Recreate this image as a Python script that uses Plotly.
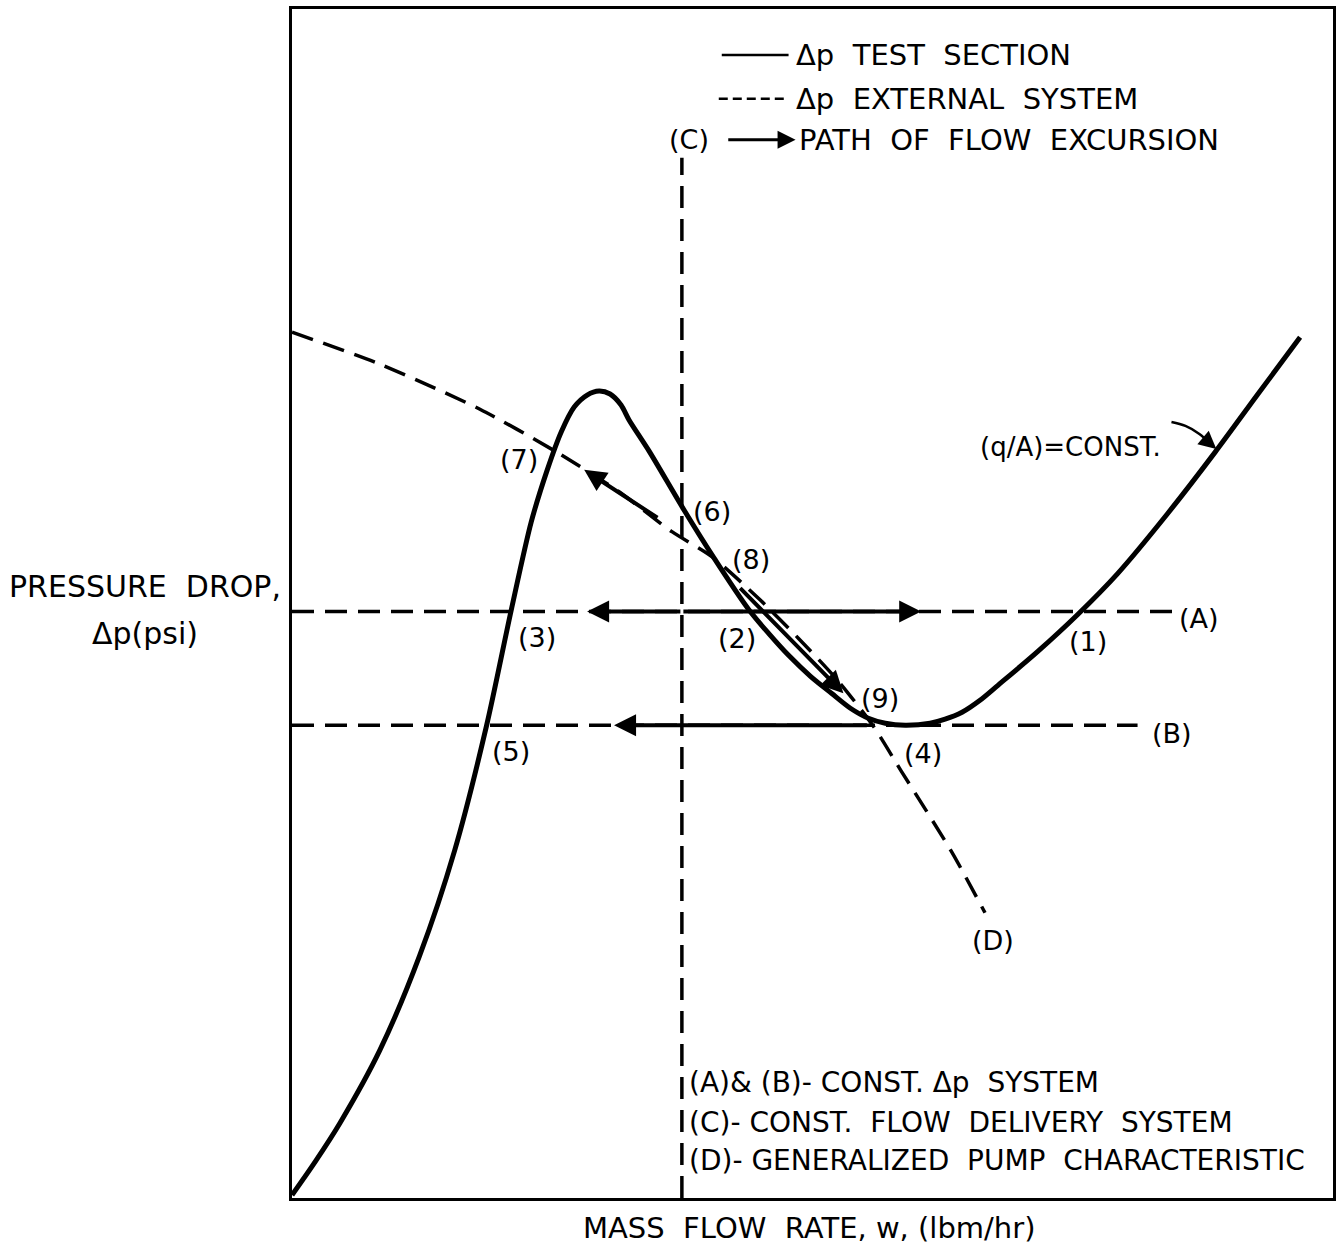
import plotly.graph_objects as go

# Test-section pressure drop vs. mass flow rate (q/A = const.), schematic units
test_w = [0, 23, 48, 88, 128, 163, 195, 220, 240, 256, 270, 283, 296, 308, 319,
          330, 338, 358, 393, 423, 458, 478, 498, 520, 541, 560, 578, 595, 615,
          640, 655, 672, 690, 708, 748, 788, 828, 878, 926, 968, 1011]
test_dp = [3, 36, 75, 148, 243, 348, 473, 590, 678, 730, 768, 793, 805, 809, 806,
           795, 780, 749, 690, 642, 590, 566, 544, 523, 506, 491, 481, 476, 474,
           476, 480, 487, 499, 514, 548, 585, 626, 686, 748, 805, 863]

# External system: generalized pump characteristic (D)
pump_w = [0, 88, 188, 265, 328, 381, 421, 468, 508, 548, 583, 611, 661, 695]
pump_dp = [868, 836, 791, 748, 708, 668, 643, 601, 561, 518, 473, 428, 348, 286]

# Constant-dp systems (A), (B) and constant-flow system (C)
dp_A = 588
dp_B = 474
w_C = 391
A_span = [0, 888]
B_span = [0, 848]
C_span = [0, 1043]

# Operating-point labels
point_labels = ["(1)", "(2)", "(3)", "(4)", "(5)", "(6)", "(7)", "(8)", "(9)"]
point_w = [798, 446, 246, 633, 220, 421, 228, 460, 590]
point_dp = [558, 561, 562, 446, 448, 688, 740, 640, 501]

# Flow-excursion paths: (tail w, tail dp, head w, head dp)
excursions = [
    (368, 681, 293, 730),   # (6)/(8) -> (7)
    (448, 613, 553, 506),   # (8) -> (9)
    (391, dp_A, 296, dp_A),  # (2) -> (3)
    (391, dp_A, 631, dp_A),  # (2) -> (1)
    (578, dp_B, 323, dp_B),  # (4) -> (5)
]

# (q/A) pointer: curved leader from the label to the test-section curve
lead_w = [882, 896, 910, 920]
lead_dp = [778, 774, 766, 757]

FONT = "DejaVu Sans"
DASH = "22px,11px"

fig = go.Figure()

fig.add_trace(go.Scatter(x=test_w, y=test_dp, mode="lines",
                         line=dict(color="black", width=5, shape="spline", smoothing=0.8),
                         hoverinfo="skip"))
fig.add_trace(go.Scatter(x=pump_w, y=pump_dp, mode="lines",
                         line=dict(color="black", width=3.5, dash=DASH, shape="spline", smoothing=0.7),
                         hoverinfo="skip"))
fig.add_trace(go.Scatter(x=A_span, y=[dp_A, dp_A], mode="lines",
                         line=dict(color="black", width=3.5, dash=DASH), hoverinfo="skip"))
fig.add_trace(go.Scatter(x=B_span, y=[dp_B, dp_B], mode="lines",
                         line=dict(color="black", width=3.5, dash=DASH), hoverinfo="skip"))
fig.add_trace(go.Scatter(x=[w_C, w_C], y=C_span, mode="lines",
                         line=dict(color="black", width=3.5, dash=DASH), hoverinfo="skip"))
fig.add_trace(go.Scatter(x=lead_w, y=lead_dp, mode="lines",
                         line=dict(color="black", width=2.5, shape="spline"), hoverinfo="skip"))

# Key samples
fig.add_trace(go.Scatter(x=[431, 498], y=[1146, 1146], mode="lines",
                         line=dict(color="black", width=2.5), hoverinfo="skip"))
fig.add_trace(go.Scatter(x=[428, 498], y=[1102, 1102], mode="lines",
                         line=dict(color="black", width=2.5, dash="9px,5px"), hoverinfo="skip"))

def arrow(tw, tdp, hw, hdp, width=4, size=1.1):
    fig.add_annotation(x=hw, y=hdp, ax=tw, ay=tdp, xref="x", yref="y",
                       axref="x", ayref="y", text="", showarrow=True,
                       arrowhead=2, arrowsize=size, arrowwidth=width,
                       arrowcolor="black", standoff=0, startstandoff=0)

for tw, tdp, hw, hdp in excursions:
    arrow(tw, tdp, hw, hdp)

# key arrow and (q/A) pointer head
arrow(436, 1061, 505, 1061, width=3, size=1.2)
arrow(lead_w[-1], lead_dp[-1], 927, 751, width=2.5, size=1.4)

def label(txt, w, dp, size=27, anchor="center"):
    fig.add_annotation(x=w, y=dp, xref="x", yref="y", text=txt, showarrow=False,
                       xanchor=anchor, yanchor="middle",
                       font=dict(family=FONT, size=size, color="black"))

for t, w, dp in zip(point_labels, point_w, point_dp):
    label(t, w, dp)

label("(A)", 910, 581)
label("(B)", 883, 466)
label("(D)", 703, 258)
label("(C)", 398, 1061)
label("(q/A)=CONST.", 781, 753, size=26)

label("Δp  TEST  SECTION", 503, 1146, size=29, anchor="left")
label("Δp  EXTERNAL  SYSTEM", 503, 1102, size=29, anchor="left")
label("PATH  OF  FLOW  EXCURSION", 506, 1061, size=29, anchor="left")

label("(A)& (B)- CONST. Δp  SYSTEM", 396, 116, size=28, anchor="left")
label("(C)- CONST.  FLOW  DELIVERY  SYSTEM", 396, 76, size=28, anchor="left")
label("(D)- GENERALIZED  PUMP  CHARACTERISTIC", 396, 38, size=28, anchor="left")

# Axis titles
fig.add_annotation(x=-0.141, y=613, xref="paper", yref="y", text="PRESSURE  DROP,",
                   showarrow=False, xanchor="center", yanchor="middle",
                   font=dict(family=FONT, size=30, color="black"))
fig.add_annotation(x=-0.141, y=566, xref="paper", yref="y", text="Δp(psi)",
                   showarrow=False, xanchor="center", yanchor="middle",
                   font=dict(family=FONT, size=30, color="black"))
fig.add_annotation(x=518, y=-0.025, xref="x", yref="paper",
                   text="MASS  FLOW  RATE, w, (lbm/hr)", showarrow=False,
                   xanchor="center", yanchor="middle",
                   font=dict(family=FONT, size=29, color="black"))

fig.update_xaxes(range=[0, 1044], showgrid=False, zeroline=False, showticklabels=False,
                 ticks="", showline=True, linecolor="black", linewidth=3, mirror=True)
fig.update_yaxes(range=[0, 1192], showgrid=False, zeroline=False, showticklabels=False,
                 ticks="", showline=True, linecolor="black", linewidth=3, mirror=True)

fig.update_layout(width=1342, height=1252, showlegend=False,
                  margin=dict(l=292, r=6, t=6, b=54),
                  paper_bgcolor="white", plot_bgcolor="white")

fig.write_html("out.html")
